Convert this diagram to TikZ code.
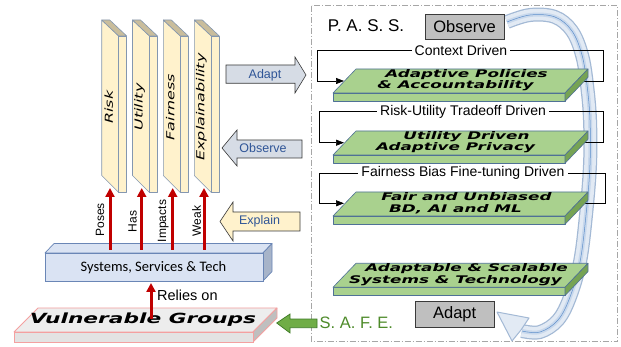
\documentclass[tikz,border=0pt]{standalone}
\usepackage{fontspec}
\setmainfont{Liberation Sans}
\newfontfamily\dvfont{DejaVu Sans}
\newfontfamily\carlfont{Carlito}
\usetikzlibrary{arrows.meta}
\definecolor{pillarfill}{HTML}{FFF2CC}
\definecolor{pillartop}{HTML}{C9BD9C}
\definecolor{pillarline}{HTML}{8497B0}
\definecolor{sysfill}{HTML}{DAE3F3}
\definecolor{sysside}{HTML}{A7B4C9}
\definecolor{sysline}{HTML}{6A86B6}
\definecolor{vulntop}{HTML}{EDEDED}
\definecolor{vulnfront}{HTML}{E3E3E3}
\definecolor{vulnside}{HTML}{BFBFBF}
\definecolor{vulnline}{HTML}{F4A0A0}
\definecolor{slabfill}{HTML}{A9D18E}
\definecolor{slabside}{HTML}{76A354}
\definecolor{slabline}{HTML}{4F7196}
\definecolor{arrowblue}{HTML}{D6DCE5}
\definecolor{arrowline}{HTML}{3A3A3A}
\definecolor{textblue}{HTML}{2F5597}
\definecolor{redc}{HTML}{C00000}
\definecolor{greenfill}{HTML}{70AD47}
\definecolor{greenline}{HTML}{3D7A25}
\definecolor{safec}{HTML}{4E8B2A}
\definecolor{boxgray}{HTML}{BFBFBF}
\definecolor{framec}{HTML}{A6A6A6}
\definecolor{ribo}{HTML}{A3B9D5}
\definecolor{ribi}{HTML}{E2EAF4}
\definecolor{ribm}{HTML}{C8D8EC}
\definecolor{ribc}{HTML}{5E8FCB}
\newcommand\fsz[2]{\fontsize{#1}{#2}\selectfont}
\newcommand\drawpillar[3]{%
  \filldraw[pfront] (#1,20) -- (#1+17,36) -- (#1+17,192.5) -- (#1,175.5) -- cycle;
  \filldraw[pfront] (#1+17,36) -- (#1+25,36) -- (#1+25,192.5) -- (#1+17,192.5) -- cycle;
  \filldraw[ptop] (#1,20) -- (#1+8,20) -- (#1+25,36) -- (#1+17,36) -- cycle;
  \node[plabel, rotate=90] (#2) at (#1+7,107) {\scalebox{1.45}[1]{#3}};
}
\newcommand\drawslab[4]{%
  \filldraw[slabf] (333,#1) rectangle (565,#1+8.3);
  \filldraw[slabf] (333,#1) -- (356,#1-24) -- (588,#1-24) -- (565,#1) -- cycle;
  \filldraw[slabs] (565,#1) -- (588,#1-24) -- (588,#1-15.7) -- (565,#1+8.3) -- cycle;
  \node[slabtext] (#2) at (461,#1-13) {\hspace*{11pt}\scalebox{1.6}[1]{#3}\\\scalebox{1.6}[1]{#4}\hspace*{11pt}};
}
\begin{document}
\begin{tikzpicture}[x=1pt,y=-1pt,
  pfront/.style={fill=pillarfill, draw=pillarline, line width=0.6pt, line join=round},
  ptop/.style={fill=pillartop, draw=pillarline, line width=0.6pt, line join=round},
  plabel/.style={font=\dvfont\itshape\fsz{11}{13}, inner sep=0pt},
  slabf/.style={fill=slabfill, draw=slabline, line width=0.6pt, line join=round},
  slabs/.style={fill=slabside, draw=slabline, line width=0.6pt, line join=round},
  slabtext/.style={font=\dvfont\bfseries\itshape\fsz{10.5}{11.7}, align=center, inner sep=0pt},
  redarr/.style={draw=redc, line width=3pt, -{Triangle[width=9pt,length=9pt]}},
  rotlab/.style={rotate=90, font=\fsz{12}{12}, inner sep=0pt},
  blockarr/.style={draw=arrowline, line width=0.6pt, line join=miter},
  arrlab/.style={text=textblue, font=\fsz{12.5}{12.5}, inner sep=0pt},
  loopline/.style={draw=black, line width=0.7pt, -{Triangle[width=6pt,length=8pt]}},
  looplab/.style={fill=white, inner sep=3pt, font=\fsz{14}{14}},
  graybox/.style={fill=boxgray, draw=arrowline, line width=0.8pt, font=\fsz{16.5}{16.5}, inner sep=0pt},
  ribpath/.style={insert path={plot[smooth, tension=0.6] coordinates {(507,22) (530,15) (555,17) (572,31) (582,55) (587,85) (590,120) (590,165) (586,215) (580,262) (570,297) (558,320) (540,332) (522,331)}}}
]
\useasboundingbox (0,0) rectangle (621,347);
\fill[white] (0,0) rectangle (621,347);

% frame
\draw[framec, line width=0.8pt, dash pattern=on 6pt off 2pt on 1pt off 2pt] (311.7,5.7) rectangle (617.7,341.7);

% ribbon arrow
\draw[ribo, line width=14pt, line cap=butt, ribpath];
\draw[ribi, line width=11.5pt, line cap=butt, ribpath];
\draw[ribm, line width=4pt, line cap=butt, ribpath];
\draw[ribc, line width=0.5pt, ribpath];
\filldraw[fill=ribi, draw=ribo, line width=1pt, line join=round] (497,312) -- (529,318) -- (521,330) -- (512,341) -- cycle;

% pillars
\drawpillar{101.7}{risk}{Risk}
\drawpillar{132.5}{utility}{Utility}
\drawpillar{163.3}{fairness}{Fairness}
\drawpillar{194.3}{explain}{Explainability}

% systems box
\filldraw[fill=sysfill, draw=sysline, line width=0.7pt, line join=round] (45,253) -- (54,243.5) -- (272,243.5) -- (263,253) -- cycle;
\filldraw[fill=sysside, draw=sysline, line width=0.7pt, line join=round] (263,253) -- (272,243.5) -- (272,271.5) -- (263,281) -- cycle;
\filldraw[fill=sysfill, draw=sysline, line width=0.7pt] (45,253) rectangle (263,281);
\node[font=\carlfont\fsz{14.5}{14.5}, inner sep=0pt] (sys) at (153.5,267.3) {Systems, Services \& Tech};

% vulnerable groups slab
\filldraw[fill=vulntop, draw=vulnline, line width=0.8pt, line join=round] (14,332) -- (38,308) -- (277,308) -- (253,332) -- cycle;
\filldraw[fill=vulnside, draw=vulnline, line width=0.8pt, line join=round] (253,332) -- (277,308) -- (277,318) -- (253,342) -- cycle;
\filldraw[fill=vulnfront, draw=vulnline, line width=0.8pt] (14,332) rectangle (253,342);
\node[font=\dvfont\bfseries\itshape\fsz{14}{16}, inner sep=0pt] (vuln) at (143,320) {\scalebox{1.55}[1]{Vulnerable Groups}};

% red arrows
\coordinate (s1) at (110,250); \coordinate (p1) at (110,188);
\coordinate (s2) at (141.7,250); \coordinate (p2) at (141.7,188);
\coordinate (s3) at (172.7,250); \coordinate (p3) at (172.7,188);
\coordinate (s4) at (204,250); \coordinate (p4) at (204,188);
\draw[redarr] (s1) -- (p1);
\draw[redarr] (s2) -- (p2);
\draw[redarr] (s3) -- (p3);
\draw[redarr] (s4) -- (p4);
\node[rotlab] (poses) at (100,220) {Poses};
\node[rotlab] (has) at (132.5,221.5) {Has};
\node[rotlab] (impacts) at (163.3,221) {Impacts};
\node[rotlab] (weak) at (196.5,221) {Weak};
\coordinate (vtop) at (151,319); \coordinate (sbot) at (151,283);
\draw[redarr] (vtop) -- (sbot);
\node[anchor=west, font=\fsz{14.5}{14.5}, inner sep=0pt] (relies) at (157,295) {Relies on};

% block arrows
\filldraw[fill=arrowblue, blockarr] (226,65) -- (295,65) -- (295,57) -- (306,75) -- (295,93) -- (295,83.3) -- (226,83.3) -- cycle;
\node[arrlab] (adaptlab) at (265,75) {Adapt};
\filldraw[fill=arrowblue, blockarr] (222,148) -- (237,130) -- (237,140) -- (302,140) -- (302,158) -- (237,158) -- (237,166) -- cycle;
\node[arrlab] (observelab) at (263,148) {Observe};
\filldraw[fill=pillarfill, blockarr] (220,221.5) -- (233,202) -- (233,212) -- (300,212) -- (300,231) -- (233,231) -- (233,241) -- cycle;
\node[arrlab] (explainlab) at (259.5,221.7) {Explain};
\filldraw[fill=greenfill, draw=greenline, line width=0.7pt] (276.7,323) -- (290,314) -- (290,319) -- (317,319) -- (317,327.7) -- (290,327.7) -- (290,333) -- cycle;
\node[anchor=west, text=safec, font=\fsz{16.5}{16.5}, inner sep=0pt] (safe) at (319.5,323) {S. A. F. E.};

% PASS
\node[font=\fsz{17}{17}, inner sep=0pt] (pass) at (366,26) {P. A. S. S.};
\node[graybox, minimum width=79pt, minimum height=25.3pt] (observe) at (464.5,26.7) {Observe};
\node[graybox, minimum width=79.3pt, minimum height=25.6pt] (adapt) at (454.7,314.5) {Adapt};

% loops
\draw[loopline] (584,81) -- (603,81) -- (603,50.7) -- (317.7,50.7) -- (317.7,81) -- (344,81);
\node[looplab] (ctx) at (461,50.7) {Context Driven};
\draw[loopline] (584,142.7) -- (603,142.7) -- (603,111.7) -- (319.3,111.7) -- (319.3,142.7) -- (344,142.7);
\node[looplab] (rut) at (463,111.7) {Risk-Utility Tradeoff Driven};
\draw[loopline] (585,203.3) -- (605,203.3) -- (605,173.3) -- (319.3,173.3) -- (319.3,203.3) -- (344,203.3);
\node[looplab] (fbf) at (463,173.3) {Fairness Bias Fine-tuning Driven};

% slabs
\drawslab{93}{slab1}{Adaptive Policies}{\& Accountability}
\drawslab{155}{slab2}{Utility Driven}{Adaptive Privacy}
\drawslab{216}{slab3}{Fair and Unbiased}{BD, AI and ML}
\drawslab{287.3}{slab4}{Adaptable \& Scalable}{Systems \& Technology}
\end{tikzpicture}
\end{document}
